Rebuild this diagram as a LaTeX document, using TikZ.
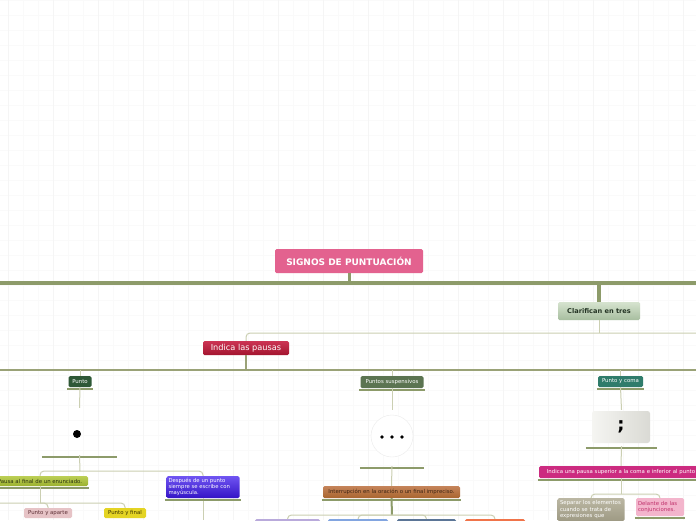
\documentclass[tikz,border=0pt]{standalone}
\usepackage{fontspec}
\setmainfont{DejaVu Sans}
\usetikzlibrary{positioning}

\definecolor{barolive}{HTML}{8D9B6A}
\definecolor{branchgreen}{HTML}{9AA277}
\definecolor{linkgrey}{HTML}{CBCFB2}
\definecolor{gridtint}{HTML}{FAFAFA}
\definecolor{gridmajor}{HTML}{F5F5F5}
\definecolor{titlepink}{HTML}{E3628F}
\definecolor{clartop}{HTML}{D6E3CF}
\definecolor{clarbot}{HTML}{A7BE9F}
\definecolor{clartext}{HTML}{243424}
\definecolor{indicatop}{HTML}{CC3454}
\definecolor{indicabot}{HTML}{A3152F}
\definecolor{puntogreen}{HTML}{2E5836}
\definecolor{suspgreen}{HTML}{5B7451}
\definecolor{pycteal}{HTML}{2F7C6B}
\definecolor{pausatop}{HTML}{BCCF55}
\definecolor{pausabot}{HTML}{9BB12F}
\definecolor{pausatext}{HTML}{2C3310}
\definecolor{apartepink}{HTML}{E6C3C6}
\definecolor{apartetext}{HTML}{5E3036}
\definecolor{finalyellow}{HTML}{E4D424}
\definecolor{finaltext}{HTML}{3C3400}
\definecolor{despuestop}{HTML}{7055F2}
\definecolor{despuesbot}{HTML}{3414C6}
\definecolor{interrtop}{HTML}{C5845A}
\definecolor{interrbot}{HTML}{A9652F}
\definecolor{interrtext}{HTML}{3E2412}
\definecolor{indicapink}{HTML}{CC2B80}
\definecolor{separtop}{HTML}{BBB7A3}
\definecolor{separbot}{HTML}{9E9A84}
\definecolor{delantepink}{HTML}{F3B5CC}
\definecolor{delantetext}{HTML}{C0326C}
\definecolor{lilac}{HTML}{B9AADB}
\definecolor{bluebox}{HTML}{82A5E0}
\definecolor{slatebox}{HTML}{5B7596}
\definecolor{orangebox}{HTML}{F0744A}
\definecolor{imgleft}{HTML}{F5F5F2}
\definecolor{imgright}{HTML}{DADAD4}

\def\ux{1pt}
\def\uy{-1pt}
\newcommand{\nodebar}[1]{\draw[bar] ([shift={(-1pt,-1.6pt)}]#1.south west) -- ([shift={(1pt,-1.6pt)}]#1.south east);}

\begin{document}
\begin{tikzpicture}[x=\ux,y=\uy, font=\fontsize{5.4}{6.3}\selectfont,
	box/.style={rounded corners=1.5pt, inner sep=1pt, align=center},
	bar/.style={draw=barolive, line width=2.2pt},
	trunk/.style={draw=barolive, line width=3.5pt},
	branch/.style={draw=branchgreen, line width=1.2pt},
	link/.style={draw=linkgrey, line width=1pt, rounded corners=4pt},
	gridminor/.style={draw=gridtint, line width=0.5pt},
	picbox/.style={inner sep=0pt}]
		\useasboundingbox (0,0) rectangle (696,520);
		\clip (0,0) rectangle (696,520);
		\fill[white] (0,0) rectangle (696,520);
		\foreach \gx in {8,23,...,696}{
			\draw[gridminor] (\gx,0) -- (\gx,520);
		}
		\foreach \gy in {0,15,...,520}{
			\draw[gridminor] (0,\gy) -- (696,\gy);
		}
		\foreach \gx in {8,53,...,696}{
			\draw[draw=gridmajor, line width=0.5pt] (\gx,0) -- (\gx,520);
		}

		\node[box, minimum width=148, minimum height=24, fill=titlepink, text=white, font=\bfseries\fontsize{9}{10}\selectfont] (titulo) at (349,261) {SIGNOS DE PUNTUACIÓN};
		\coordinate (tl) at (0,283);
		\coordinate (tr) at (696,283);
		\draw[trunk] (tl) -- (tr);
		\draw[trunk, line width=3pt] (titulo.south) -- (titulo.south |- tl);

		\node[box, minimum width=82, minimum height=18, top color=clartop, bottom color=clarbot, text=clartext, font=\bfseries\fontsize{6.6}{7.5}\selectfont] (clar) at (599,311) {Clarifican en tres};
		\draw[trunk] (clar.north) -- (clar.north |- tl);

		\coordinate (h1) at (696,333);
		\node[box, minimum width=86, minimum height=14, top color=indicatop, bottom color=indicabot, text=white, font=\fontsize{8.2}{9}\selectfont] (indica) at (246,348) {Indica las pausas};
		\draw[link] (indica.north) |- (h1);
		\draw[link] (clar.south) -- (clar.south |- h1);

		\coordinate (h2l) at (0,370);
		\coordinate (h2r) at (696,370);
		\draw[branch] (h2l) -- (h2r);
		\draw[branch] (indica.south) -- (indica.south |- h2l);

		\node[box, minimum width=23, minimum height=11, fill=puntogreen, text=white] (punto) at (80,381.5) {Punto};
		\node[box, minimum width=63, minimum height=12, fill=suspgreen, text=white] (susp) at (392,382) {Puntos suspensivos};
		\node[box, minimum width=45, minimum height=11, fill=pycteal, text=white] (pyc) at (620.5,381.5) {Punto y coma};
		\foreach \n in {punto,susp,pyc}{
			\draw[link] (\n.north) -- (\n.north |- h2l);
			\nodebar{\n}
		}

		\node[picbox, minimum width=73, minimum height=47] (pimg) at (79.5,431.5) {};
		\node[circle, fill=black, minimum size=8, inner sep=0pt] (pdot) at (77,434) {};
		\node[picbox, minimum width=62, minimum height=56] (simg) at (392,438) {};
		\node[circle, draw=black!8, fill=white, minimum size=42, inner sep=0pt] (sring) at (392,436) {};
		\foreach \dx in {382,392,402}{
			\fill[black] (\dx,437) circle (1.8);
		}
		\node[picbox, minimum width=69, minimum height=36] (pyimg) at (621.5,428) {};
		\node[box, minimum width=58, minimum height=32, rounded corners=2.5pt, left color=imgleft, right color=imgright, text=black, font=\bfseries\fontsize{18}{18}\selectfont] (semi) at (621,427) {;};
		\foreach \n in {pimg,simg,pyimg}{
			\nodebar{\n}
		}
		\draw[link] (punto.south) -- (pimg.north);
		\draw[link] (susp.south) -- (simg.north);
		\draw[link] (pyc.south) -- (pyimg.north);

		\node[box, minimum width=96, minimum height=10, top color=pausatop, bottom color=pausabot, text=pausatext] (pausa) at (40,481) {Pausa al final de un enunciado.};
		\node[box, text width=69, inner sep=2pt, minimum height=22, top color=despuestop, bottom color=despuesbot, text=white, align=left, font=\fontsize{5.3}{5.8}\selectfont] (despues) at (203,487) {Después de un punto\\siempre se escribe con\\mayúscula.};
		\coordinate (j1) at (80,471);
		\draw[link] (pimg.south) -- (j1);
		\draw[link] (j1) -| (pausa.north);
		\draw[link] (j1) -| (despues.north);
		\coordinate (dend) at (203,520);
		\draw[link] (despues.south) -- (dend);
		\nodebar{pausa}
		\nodebar{despues}

		\node[box, minimum width=48, minimum height=10, fill=apartepink, text=apartetext] (aparte) at (48,513) {Punto y aparte};
		\node[box, minimum width=42, minimum height=10, fill=finalyellow, text=finaltext] (final) at (125,513) {Punto y final};
		\coordinate (j2) at (40,503);
		\coordinate (j2l) at (0,503);
		\draw[link] (pausa.south) -- (j2);
		\draw[link] (j2l) -| (aparte.north);
		\draw[link] (j2) -| (final.north);

		\node[box, minimum width=137, minimum height=12, top color=interrtop, bottom color=interrbot, text=interrtext] (interr) at (391.5,492) {Interrupción en la oración o un final impreciso.};
		\draw[link] (simg.south) -- (interr.north);
		\nodebar{interr}
		\coordinate (j3) at (392,515);
		\draw[barolive, line width=2pt] (interr.south) -- (j3);
		\foreach \n/\x/\w/\c in {lila/287.5/65/lilac, azul/358/60/bluebox, pizarra/426.5/59/slatebox, naranja/495/60/orangebox}{
			\draw[link] (j3) -| (\x,519);
			\node[box, minimum width=\w, minimum height=12, fill=\c, anchor=north] (\n) at (\x,519) {};
		}

		\node[box, minimum width=164, minimum height=12, fill=indicapink, text=white] (indica2) at (621,472) {Indica una pausa superior a la coma e inferior al punto};
		\draw[link] (pyimg.south) -- (indica2.north);
		\nodebar{indica2}
		\node[box, anchor=north, text width=62, inner sep=2.5pt, top color=separtop, bottom color=separbot, text=white, align=left] (separar) at (591,498) {Separar los elementos\\cuando se trata de\\expresiones que};
		\node[box, anchor=north, text width=44, inner sep=2pt, minimum height=18, fill=delantepink, text=delantetext, align=left] (delante) at (660,498) {Delante de las\\conjunciones.};
		\coordinate (j4) at (621,494);
		\draw[link] (indica2.south) -- (j4);
		\draw[link] (j4) -| (separar.north);
		\draw[link] (j4) -| (delante.north);
		\nodebar{delante}
\end{tikzpicture}
\end{document}
